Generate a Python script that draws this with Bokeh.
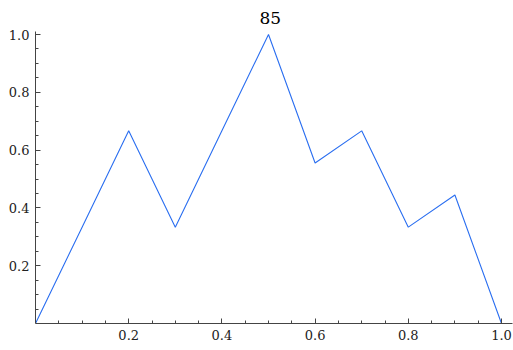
from bokeh.plotting import figure
from bokeh.models import FixedTicker, Range1d, PrintfTickFormatter
from bokeh.embed import file_html
from bokeh.resources import INLINE

title_text = "85"
xs = [0.0, 0.1, 0.2, 0.3, 0.4, 0.5, 0.6, 0.7, 0.8, 0.9, 1.0]
ys = [0.0, 3/9, 6/9, 3/9, 6/9, 1.0, 5/9, 6/9, 3/9, 4/9, 0.0]
major_ticks = [0.2, 0.4, 0.6, 0.8, 1.0]
minor_ticks = [0.05, 0.1, 0.15, 0.25, 0.3, 0.35, 0.45, 0.5, 0.55, 0.65, 0.7, 0.75, 0.85, 0.9, 0.95]

FONT = "DejaVu Serif"

p = figure(width=513, height=350, output_backend="svg", toolbar_location=None,
           x_range=Range1d(0, 1.0236), y_range=Range1d(0, 1.0104),
           min_border_left=35, min_border_right=1, min_border_bottom=27, min_border_top=31)

p.title.text = title_text
p.title.align = "left"
p.title.offset = 224
p.title.vertical_align = "bottom"
p.title.standoff = 15
p.title.text_font = FONT
p.title.text_font_size = "17px"
p.title.text_font_style = "normal"
p.title.text_color = "#000000"

p.grid.visible = False
p.outline_line_color = None
p.background_fill_color = "white"
p.border_fill_color = "white"

for ax in (p.xaxis[0], p.yaxis[0]):
    ax.ticker = FixedTicker(ticks=major_ticks, minor_ticks=minor_ticks)
    ax.formatter = PrintfTickFormatter(format="%.1f")
    ax.axis_line_color = "#444444"
    ax.axis_line_width = 1
    ax.major_tick_line_color = "#444444"
    ax.minor_tick_line_color = "#444444"
    ax.major_tick_in = 5
    ax.major_tick_out = 0
    ax.minor_tick_in = 3
    ax.minor_tick_out = 0
    ax.major_label_text_font = FONT
    ax.major_label_text_font_size = "13px"
    ax.major_label_text_color = "#222222"
    ax.major_label_standoff = 6

p.line(xs, ys, line_color="#2a6ef0", line_width=1.1)

open("out.html", "w").write(file_html(p, INLINE))
